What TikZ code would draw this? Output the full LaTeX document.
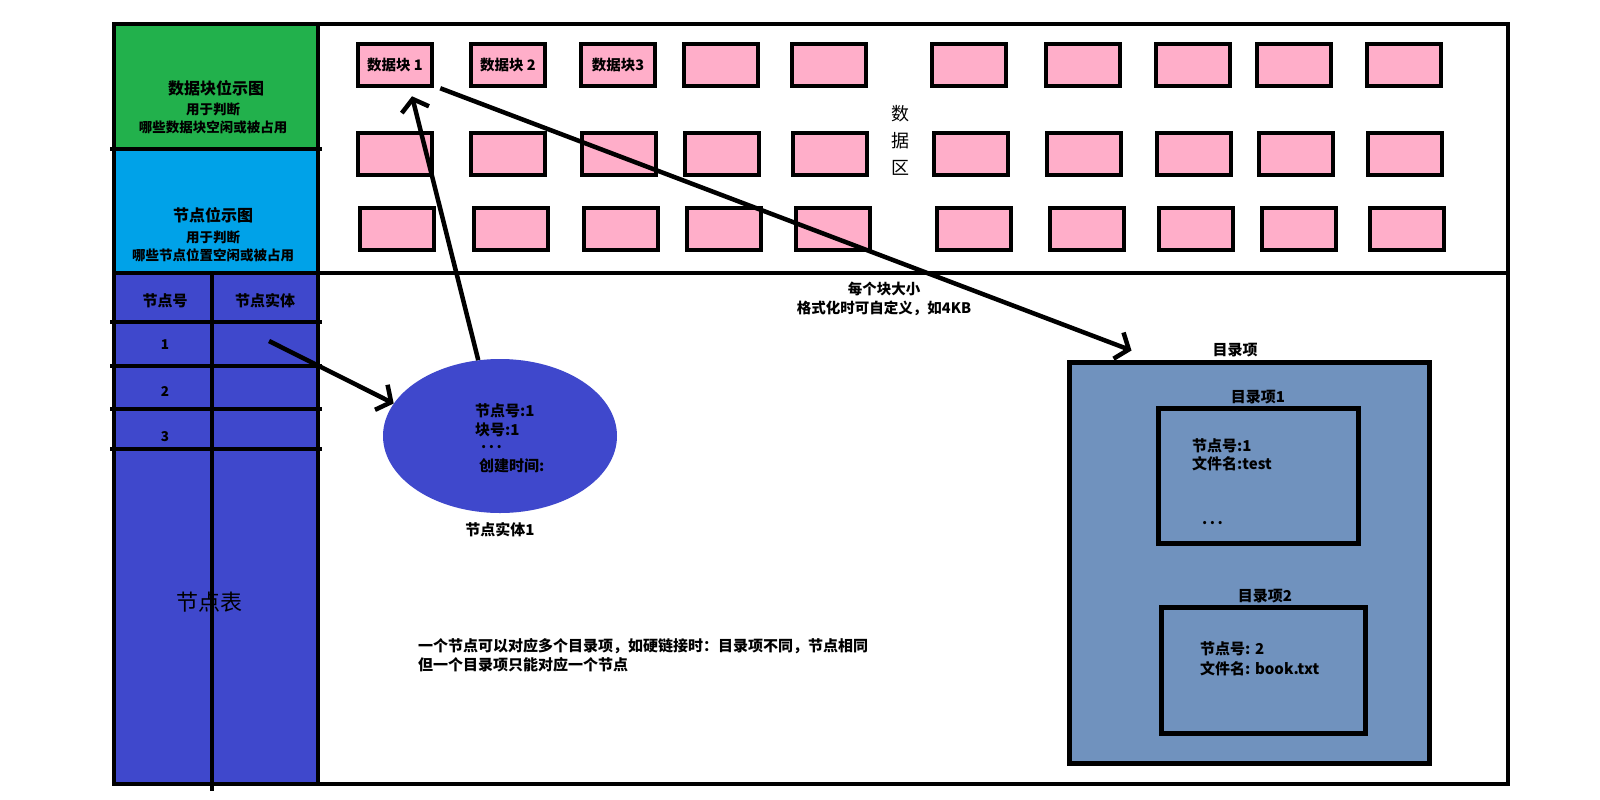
\documentclass[tikz,border=0pt]{standalone}
\usepackage{fontspec}
\setmainfont{Noto Sans CJK SC}
\usetikzlibrary{shapes.geometric,arrows.meta,calc}
\definecolor{pgreen}{HTML}{22B14C}
\definecolor{pcyan}{HTML}{00A2E8}
\definecolor{ppink}{HTML}{FFAEC9}
\definecolor{pindigo}{HTML}{3F48CC}
\definecolor{psteel}{HTML}{7092BE}
\begin{document}
\begin{tikzpicture}[x=1pt,y=-1pt,
  txt/.style={font=\bfseries\fontsize{15}{18}\selectfont, inner sep=0},
  small/.style={font=\bfseries\fontsize{13.5}{17}\selectfont, inner sep=0},
  frameline/.style={line width=4pt},
  blk/.style={draw, fill=ppink, line width=4.5pt, minimum width=74pt, minimum height=42pt, inner sep=0, font=\bfseries\fontsize{14.5}{17}\selectfont},
  dirbox/.style={draw, line width=5pt, fill=psteel, inner sep=0},
  arr/.style={line width=4.5pt, -{Straight Barb[length=11pt,width=28pt]}},
]
\fill[white] (0,0) rectangle (1600,800);
\useasboundingbox (0,0) rectangle (1600,800);

% left column fills
\fill[pgreen] (114,24) rectangle (318,149);
\fill[pcyan] (114,149) rectangle (318,273);
\fill[pindigo] (114,273) rectangle (318,784);

% outer frame and separators
\draw[frameline] (114,24) rectangle (1508,784);
\draw[frameline] (318,24) -- (318,784);
\draw[frameline] (110,149) -- (322,149);
\draw[frameline] (114,273) -- (1508,273);
\foreach \yy in {322,366,409,449} \draw[frameline] (110,\yy) -- (322,\yy);
\draw[frameline] (212,273) -- (212,791);

% left column texts
\node[txt, font=\bfseries\fontsize{16}{18}\selectfont] (gt1) at (216,88) {数据块位示图};
\node[small] (gt2) at (213,109) {用于判断};
\node[small] (gt3) at (213,127) {哪些数据块空闲或被占用};
\node[txt, font=\bfseries\fontsize{16}{18}\selectfont] (ct1) at (213,215) {节点位示图};
\node[small] (ct2) at (213,237) {用于判断};
\node[small] (ct3) at (213,255) {哪些节点位置空闲或被占用};
\node[txt] (h1) at (165,301) {节点号};
\node[txt] (h2) at (265,301) {节点实体};
\node[small] (r1) at (165,345) {1};
\node[small] (r2) at (165,392) {2};
\node[small] (r3) at (165,437) {3};
\node[font=\fontsize{22}{26}\selectfont, inner sep=0] (tbl) at (209,602) {节点表};

% data blocks
\node[blk] (a1) at (395,65) {数据块\ 1};
\node[blk] (a2) at (508,65) {数据块\ 2};
\node[blk] (a3) at (618,65) {数据块3};
\foreach \xx [count=\i from 4] in {721,829,969,1083,1193,1294,1404}
  \node[blk] (a\i) at (\xx,65) {};
\foreach \xx [count=\i] in {395,508,619,722,830,971,1084,1194,1296,1405}
  \node[blk] (b\i) at (\xx,154) {};
\foreach \xx [count=\i] in {397,511,621,724,833,974,1087,1196,1299,1407}
  \node[blk] (c\i) at (\xx,229) {};

\node[font=\fontsize{18}{20}\selectfont, inner sep=0] (dz1) at (900,114) {数};
\node[font=\fontsize{18}{20}\selectfont, inner sep=0] (dz2) at (900,141) {据};
\node[font=\fontsize{18}{20}\selectfont, inner sep=0] (dz3) at (900,168) {区};

\node[small, font=\bfseries\fontsize{14.5}{17}\selectfont] (sz1) at (884,289) {每个块大小};
\node[small, font=\bfseries\fontsize{14.5}{17}\selectfont] (sz2) at (884,308) {格式化时可自定义，如4KB};

% inode entity
\node[ellipse, fill=pindigo, minimum width=234pt, minimum height=154pt, inner sep=0] (ent) at (500,436) {};
\node[txt, anchor=west] (e1) at (475,411) {节点号:1};
\node[txt, anchor=west] (e2) at (475,430) {块号:1};
\node[txt, anchor=west] (e3) at (481,447) {.\hspace{2.5pt}.\hspace{2.5pt}.};
\node[txt, anchor=west] (e4) at (479,466) {创建时间:};
\node[txt] (entl) at (500,530) {节点实体1};

% notes
\node[txt, anchor=west] (n1) at (418,646) {一个节点可以对应多个目录项，如硬链接时：目录项不同，节点相同};
\node[txt, anchor=west] (n2) at (418,665) {但一个目录项只能对应一个节点};

% directory entries
\node[dirbox, minimum width=360pt, minimum height=401pt] (dir) at (1249,562.5) {};
\node[txt] (dirl) at (1235,350) {目录项};
\node[draw, line width=5pt, inner sep=0, minimum width=200pt, minimum height=135pt] (d1) at (1258,475.5) {};
\node[txt] (d1l) at (1258,397) {目录项1};
\node[txt, anchor=west] (d1a) at (1192,446) {节点号:1};
\node[txt, anchor=west] (d1b) at (1192,464) {文件名:test};
\node[txt, anchor=west] (d1c) at (1202,523) {.\hspace{2.5pt}.\hspace{2.5pt}.};
\node[draw, line width=5pt, inner sep=0, minimum width=204pt, minimum height=126pt] (d2) at (1263,670) {};
\node[txt] (d2l) at (1265,596) {目录项2};
\node[txt, anchor=west] (d2a) at (1200,649) {节点号: 2};
\node[txt, anchor=west] (d2b) at (1200,669) {文件名: book.txt};

% connectors
\coordinate (s3) at (269,341);
\draw[arr] (ent.106) -- ($(a1.south)+(17,8)$);
\draw[arr] ($(a1.south east)+(6,0)$) -- ($(dir.north west)+(65,-9)$);
\draw[arr] (s3) -- (ent.163);
\end{tikzpicture}
\end{document}
